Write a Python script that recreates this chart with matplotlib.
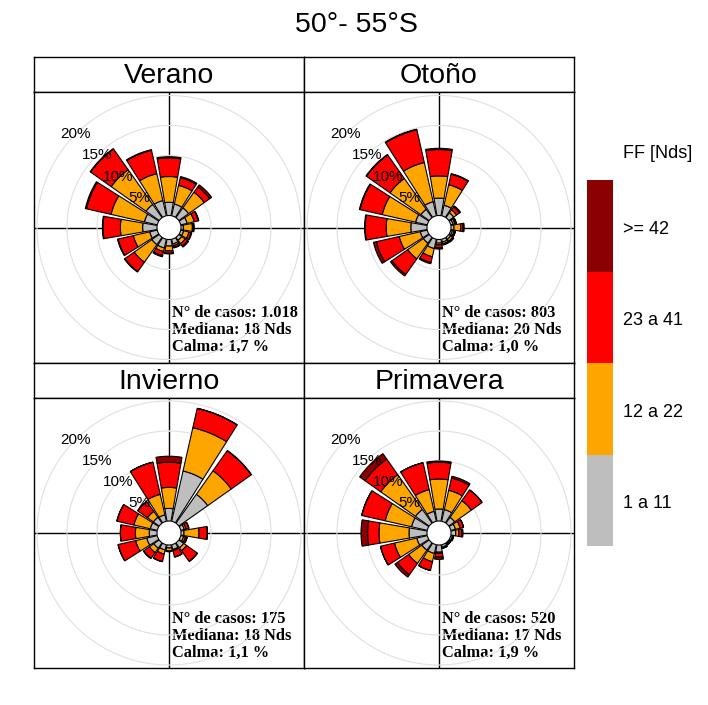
import numpy as np
import matplotlib
matplotlib.use("Agg")
import matplotlib.pyplot as plt
from matplotlib.patches import Circle

plt.rcParams["font.family"] = ["Liberation Sans", "DejaVu Sans"]

# ==============================
# DATA (percent of cases per direction and speed class)
# ==============================
directions = [0, 22.5, 45, 67.5, 90, 112.5, 135, 157.5,
              180, 202.5, 225, 247.5, 270, 292.5, 315, 337.5]
speed_labels = ["1 a 11", "12 a 22", "23 a 41", ">= 42"]
speed_colors = ["#BEBEBE", "#FFA500", "#FF0000", "#8B0000"]

verano_1_11 = [2.2, 2.0, 2.0, 1.1, 0.4, 0.5, 0.6, 0.8, 1.1, 1.5, 1.5, 1.3, 2.4, 2.2, 2.7, 2.6]
verano_12_22 = [4.3, 3.2, 3.2, 1.2, 1.5, 0.9, 0.7, 0.3, 0.8, 0.6, 3.6, 2.8, 3.7, 5.7, 7.1, 4.6]
verano_23_41 = [3.1, 1.3, 1.1, 0.7, 0.2, 0.4, 0.5, 0.3, 0.4, 0.7, 1.9, 2.6, 2.9, 4.2, 4.2, 4.0]
verano_42 = [0.2, 0.2, 0.4, 0.1, 0.1, 0.1, 0.2, 0.1, 0.1, 0.2, 0.1, 0.1, 0.1, 0.2, 0.1, 0.1]

otono_1_11 = [2.9, 1.8, 1.0, 0.4, 0.5, 0.3, 0.4, 0.5, 0.6, 1.6, 1.2, 1.2, 2.7, 2.0, 1.7, 2.4]
otono_12_22 = [3.7, 3.5, 0.6, 0.3, 1.1, 0.3, 0.4, 0.3, 0.3, 1.4, 3.2, 3.6, 4.1, 5.7, 6.3, 6.7]
otono_23_41 = [4.4, 1.8, 0.6, 0.2, 0.4, 0.2, 0.2, 0.1, 0.5, 1.0, 3.2, 3.9, 3.5, 3.8, 4.8, 5.6]
otono_42 = [0.2, 0.1, 0.2, 0.1, 0.2, 0.0, 0.0, 0.1, 0.2, 0.2, 0.3, 0.5, 0.1, 0.1, 0.1, 0.1]

invierno_1_11 = [2.1, 8.6, 5.9, 0.6, 0.5, 0.5, 1.0, 0.8, 0.5, 0.9, 1.1, 1.8, 1.3, 1.2, 1.2, 1.1]
invierno_12_22 = [3.5, 7.4, 4.8, 0.3, 2.5, 0.3, 0.6, 0.2, 0.5, 0.7, 0.9, 1.9, 2.3, 2.8, 1.2, 3.5]
invierno_23_41 = [4.2, 3.3, 4.1, 0.5, 1.4, 0.3, 2.2, 1.1, 0.1, 1.3, 1.2, 3.0, 2.5, 2.9, 2.0, 5.5]
invierno_42 = [1.0, 0.0, 0.0, 0.0, 0.0, 0.0, 0.0, 0.0, 0.0, 0.0, 0.0, 0.0, 0.0, 0.0, 0.0, 0.0]

primavera_1_11 = [2.0, 2.0, 1.2, 0.8, 0.8, 0.3, 0.2, 0.4, 1.2, 1.5, 1.5, 1.8, 3.0, 2.7, 2.8, 1.7]
primavera_12_22 = [5.0, 3.3, 3.4, 0.8, 0.5, 0.1, 0.1, 0.1, 0.2, 1.4, 2.7, 3.8, 5.0, 4.5, 7.1, 3.7]
primavera_23_41 = [2.8, 2.1, 2.2, 0.6, 0.5, 0.1, 0.1, 0.1, 0.6, 1.5, 2.3, 2.4, 1.9, 4.0, 3.2, 4.6]
primavera_42 = [0.2, 0.3, 0.0, 0.0, 0.2, 0.0, 0.0, 0.0, 0.4, 0.0, 0.5, 0.0, 1.1, 0.0, 1.1, 0.0]

seasons = ["Verano", "Otoño", "Invierno", "Primavera"]
season_data = [
    [verano_1_11, verano_12_22, verano_23_41, verano_42],
    [otono_1_11, otono_12_22, otono_23_41, otono_42],
    [invierno_1_11, invierno_12_22, invierno_23_41, invierno_42],
    [primavera_1_11, primavera_12_22, primavera_23_41, primavera_42],
]
casos = ["1.018", "803", "175", "520"]
mediana = [18, 20, 18, 17]
calma = ["1,7", "1,0", "1,1", "1,9"]
ring_levels = [5, 10, 15, 20]

# ==============================
# LAYOUT (pixels)
# ==============================
W, H = 708, 705
offset = 2.0          # hole radius in percent units
bar_width = 19.5      # degrees

fig = plt.figure(figsize=(W / 100, H / 100), dpi=100)
fig.text(356 / W, 1 - 25 / H, "50°- 55°S", ha="center", va="center", fontsize=20.5)

col_x = [34, 304]
strip_y = [57, 363]     # top of strip
plot_y = [92, 398]      # top of plot
plot_h = [271, 270]
panel_w = 270

for i, name in enumerate(seasons):
    r, c = divmod(i, 2)
    x0 = col_x[c]
    # strip
    sax = fig.add_axes([x0 / W, 1 - plot_y[r] / H, panel_w / W, (plot_y[r] - strip_y[r]) / H])
    sax.set_xticks([])
    sax.set_yticks([])
    for s in sax.spines.values():
        s.set_linewidth(1.0)
    sax.text(0.5, 0.47, name, ha="center", va="center", fontsize=20.5, transform=sax.transAxes)

    # cartesian background panel
    rect = [x0 / W, 1 - (plot_y[r] + plot_h[r]) / H, panel_w / W, plot_h[r] / H]
    ax = fig.add_axes(rect)
    ax.set_xlim(-panel_w / 12, panel_w / 12)
    ax.set_ylim(-plot_h[r] / 12, plot_h[r] / 12)
    ax.set_xticks([])
    ax.set_yticks([])
    for s in ax.spines.values():
        s.set_linewidth(1.0)
    ax.axhline(0, color="black", lw=1.0, zorder=1)
    ax.axvline(0, color="black", lw=1.0, zorder=1)
    ax.add_patch(Circle((0, 0), offset, facecolor="white", edgecolor="none", zorder=2))
    ax.text(0.5, -14.3, f"N° de casos: {casos[i]}", fontsize=11.8, fontweight="bold",
            family="Liberation Serif", va="center", ha="left", zorder=5)
    ax.text(0.5, -17.1, f"Mediana: {mediana[i]} Nds", fontsize=11.8, fontweight="bold",
            family="Liberation Serif", va="center", ha="left", zorder=5)
    ax.text(0.5, -19.9, f"Calma: {calma[i]} %", fontsize=11.8, fontweight="bold",
            family="Liberation Serif", va="center", ha="left", zorder=5)

    # polar rose on top
    pax = fig.add_axes(rect, projection="polar")
    pax.set_theta_zero_location("N")
    pax.set_theta_direction(-1)
    pax.set_ylim(0, panel_w / 12)
    pax.axis("off")
    pax.patch.set_alpha(0)

    theta_c = np.linspace(0, 2 * np.pi, 361)
    for lvl in ring_levels:
        pax.plot(theta_c, np.full_like(theta_c, offset + lvl), color="#E0E0E0", lw=0.8, zorder=1)

    theta = np.deg2rad(directions)
    bottom = np.full(len(directions), offset)
    for vals, col in zip(season_data[i], speed_colors):
        vals = np.array(vals)
        pax.bar(theta, vals, width=np.deg2rad(bar_width), bottom=bottom, color=col,
                edgecolor="black", linewidth=0.8, zorder=3)
        bottom = bottom + vals

    for lvl in ring_levels:
        pax.text(np.deg2rad(315), offset + lvl, f"{lvl}%", ha="center", va="center",
                 fontsize=11, zorder=6)

# ==============================
# LEGEND
# ==============================
lax = fig.add_axes([587 / W, 1 - 546 / H, 26 / W, 366 / H])
for k, col in enumerate(speed_colors):
    lax.bar(0, 1, bottom=k, width=1, color=col, edgecolor="none")
    lax.text(1.38, k + 0.46, speed_labels[k], transform=lax.get_yaxis_transform(),
             ha="left", va="center", fontsize=13)
lax.set_xlim(-0.5, 0.5)
lax.set_ylim(0, 4)
lax.axis("off")
fig.text(623 / W, 1 - 154 / H, "FF [Nds]", ha="left", va="center", fontsize=13)

fig.savefig("out.png", dpi=100)
